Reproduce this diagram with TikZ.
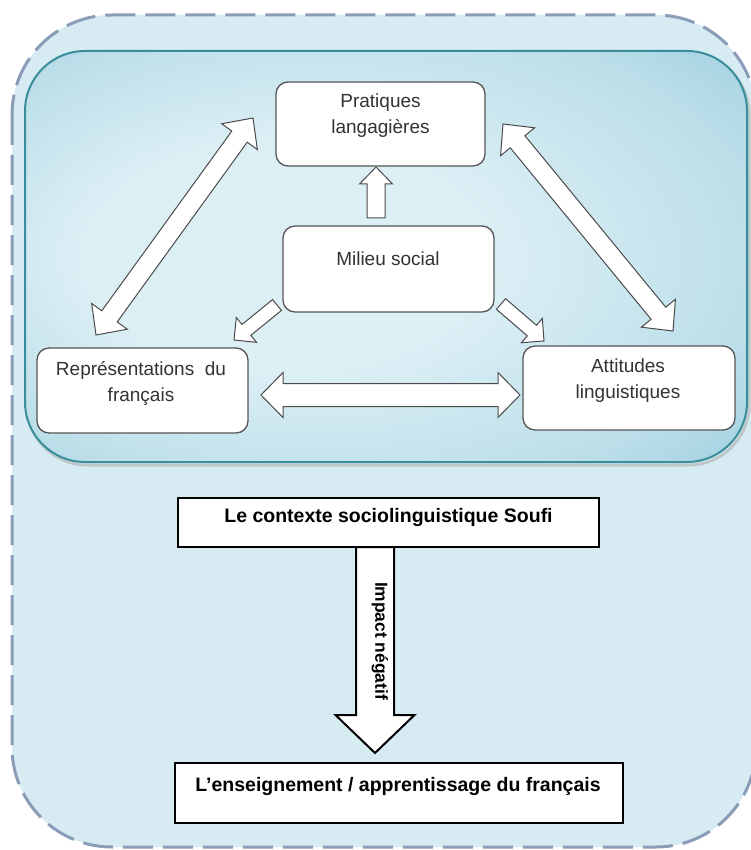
\documentclass[tikz,border=0pt]{standalone}
\usepackage{fontspec}
\setmainfont{Liberation Sans}
\usetikzlibrary{calc}
\definecolor{bgblue}{HTML}{D7EBF2}
\definecolor{dashc}{HTML}{8A9CB8}
\definecolor{tealb}{HTML}{3A8E9C}
\definecolor{glowlight}{HTML}{DCEFF5}
\definecolor{glowmid}{HTML}{BBDEE9}
\definecolor{glowdark}{HTML}{84C0D4}
\definecolor{txtc}{HTML}{333333}
\definecolor{boxline}{HTML}{555555}
\definecolor{arrline}{HTML}{4A4A4A}
\pgfdeclareradialshading{innerglow}{\pgfpoint{-10bp}{0bp}}{color(0bp)=(glowlight); color(14bp)=(glowlight); color(30bp)=(glowmid); color(46bp)=(glowdark)}
\newcommand\fatdouble[6]{%
  \coordinate (hA) at ($(#1)!#5!(#2)$);
  \coordinate (hB) at ($(#2)!#5!(#1)$);
  \draw[#6] (#1) -- ($(hA)!#4!90:(#2)$) -- ($(hA)!#3!90:(#2)$) -- ($(hB)!#3!-90:(#1)$) -- ($(hB)!#4!-90:(#1)$) -- (#2) -- ($(hB)!#4!90:(#1)$) -- ($(hB)!#3!90:(#1)$) -- ($(hA)!#3!-90:(#2)$) -- ($(hA)!#4!-90:(#2)$) -- cycle;}
\newcommand\fatsingle[6]{%
  \coordinate (hP) at ($(#2)!#5!(#1)$);
  \draw[#6] (#2) -- ($(hP)!#4!90:(#1)$) -- ($(hP)!#3!90:(#1)$) -- ($(#1)!#3!-90:(#2)$) -- ($(#1)!#3!90:(#2)$) -- ($(hP)!#3!-90:(#1)$) -- ($(hP)!#4!-90:(#1)$) -- cycle;}
\tikzset{
  fatarrow/.style={draw=arrline, line width=1pt, fill=white, line join=miter},
  bigarrow/.style={draw=black, line width=2pt, fill=white, line join=miter},
  ubox/.style={draw=boxline, line width=1.3pt, fill=white, rounded corners=12pt, inner sep=0pt},
  ttxt/.style={text=txtc, align=center, font=\fontsize{19}{26}\selectfont, inner sep=0pt},
  bbox/.style={draw=black, line width=2.6pt, fill=white, inner sep=0pt},
  btxt/.style={font=\bfseries\fontsize{19.5}{22}\selectfont, inner sep=0pt},
}
\begin{document}
\begin{tikzpicture}[x=1pt,y=-1pt]
\useasboundingbox (0,0) rectangle (750,850);
\fill[white] (0,0) rectangle (750,850);
% outer dashed frame
\path[fill=bgblue, draw=dashc, line width=3pt, dash pattern=on 30pt off 10pt, rounded corners=100pt] (12,15) rectangle (756,847);
% inner shaded frame
\draw[black!35, opacity=0.5, line width=3pt, rounded corners=60pt] (27,54) rectangle (749,465);
\shadedraw[shading=innerglow, draw=tealb, line width=2pt, rounded corners=60pt] (25,51) rectangle (747,462);

% arrow end points
\coordinate (lA) at (253,118);
\coordinate (lB) at (96,335);
\coordinate (rA) at (503,124);
\coordinate (rB) at (673,331);
\coordinate (hL) at (261,395);
\coordinate (hR) at (520,395);
\coordinate (uT) at (376,218);
\coordinate (uP) at (376,167);
\coordinate (mlT) at (277,305);
\coordinate (mlP) at (234,340);
\coordinate (mrT) at (501,304);
\coordinate (mrP) at (544,341);

\fatdouble{lA}{lB}{9.5pt}{22pt}{23pt}{fatarrow}
\fatdouble{rA}{rB}{9.5pt}{22pt}{23pt}{fatarrow}
\fatdouble{hL}{hR}{11.5pt}{22.5pt}{22pt}{fatarrow}
\fatsingle{uT}{uP}{9pt}{16.5pt}{17pt}{fatarrow}
\fatsingle{mlT}{mlP}{7pt}{16pt}{16pt}{fatarrow}
\fatsingle{mrT}{mrP}{7pt}{16pt}{16pt}{fatarrow}

% boxes of the upper diagram
\node[ubox, minimum width=209pt, minimum height=84pt] (prat) at (380.5,124) {};
\node[ttxt] (pratt) at (380.5,115.5) {Pratiques\\langagières};
\node[ubox, minimum width=211pt, minimum height=86pt] (milieu) at (388.5,269) {};
\node[ttxt] (milieut) at (388,259) {Milieu social};
\node[ubox, minimum width=211pt, minimum height=85pt] (rep) at (142.5,390.5) {};
\node[ttxt] (rept) at (141,384) {Représentations\ \ du\\français};
\node[ubox, minimum width=212pt, minimum height=84pt] (att) at (629,388) {};
\node[ttxt] (attt) at (628,380.5) {Attitudes\\linguistiques};

% lower part
\coordinate (dT) at (375,547);
\coordinate (dP) at (375,753);
\fatsingle{dT}{dP}{19pt}{39.5pt}{38pt}{bigarrow}
\node[font=\bfseries\fontsize{17.4}{20}\selectfont, rotate=-90, inner sep=0pt] (impact) at (380,641) {Impact négatif};
\node[bbox, minimum width=421pt, minimum height=49pt] (ctx) at (388.5,522.5) {};
\node[btxt] (ctxt) at (388.5,517) {Le contexte sociolinguistique Soufi};
\node[bbox, minimum width=448pt, minimum height=60pt] (ens) at (399,793) {};
\node[btxt] (enst) at (398,786) {L’enseignement / apprentissage du français};
\end{tikzpicture}
\end{document}
